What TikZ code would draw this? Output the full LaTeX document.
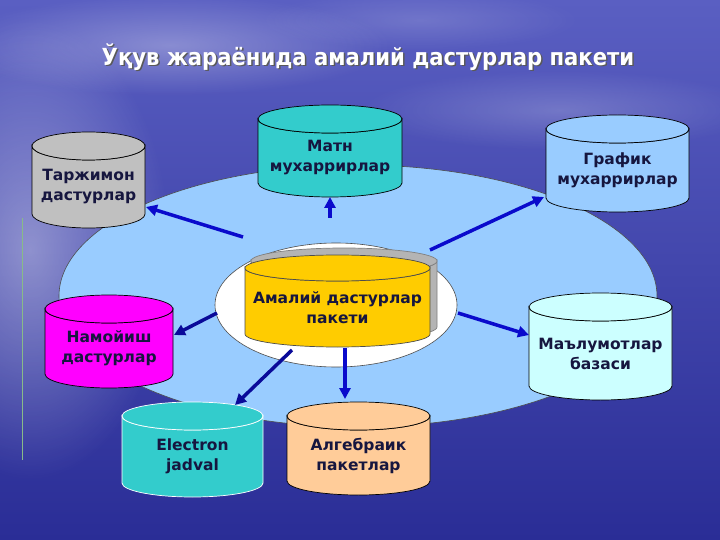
\documentclass[tikz,border=0pt]{standalone}
\usepackage{fontspec}
\setmainfont{DejaVu Sans}
\newfontfamily\titlefont{DejaVu Sans Condensed}
\usetikzlibrary{arrows.meta,fadings,shapes.geometric}
\tikzfading[name=softglow, inner color=transparent!0, outer color=transparent!100]
\definecolor{bgtop}{HTML}{5A5FC2}
\definecolor{bgmid}{HTML}{4247AE}
\definecolor{bgbot}{HTML}{2A2D96}
\definecolor{ringblue}{HTML}{99CCFF}
\definecolor{arrowblue}{HTML}{0A0ACC}
\definecolor{arrowdark}{HTML}{0A0A99}
\definecolor{txtnavy}{HTML}{16163F}
\definecolor{cgray}{HTML}{C0C0C0}
\definecolor{cteal}{HTML}{33CCCC}
\definecolor{cmag}{HTML}{FF00FF}
\definecolor{cpeach}{HTML}{FFCC99}
\definecolor{ccyan}{HTML}{CCFFFF}
\definecolor{cyellow}{HTML}{FFCC00}
\definecolor{cshadow}{HTML}{B4B4B4}
\definecolor{greenline}{HTML}{88BB88}
\tikzset{
  cyltext/.style={font=\bfseries\fontsize{15.5}{20}\selectfont, text=txtnavy, align=center, inner sep=0pt},
  conn/.style={draw=arrowblue, line width=3.5pt, -{Triangle[length=11pt,width=11pt]}},
}
\newcommand\mycyl[9]{%
  \pgfmathsetmacro\cx{(#2+#3)/2}%
  \pgfmathsetmacro\rx{(#3-#2)/2}%
  \pgfmathsetmacro\yt{#4+#6}%
  \pgfmathsetmacro\yb{#5-#6}%
  \pgfmathsetmacro\ym{(\yt+#5)/2}%
  \filldraw[fill=#7, draw=#8, line width=0.7pt] (#2,\yt) -- (#2,\yb) arc[start angle=180, end angle=0, x radius=\rx, y radius=#6] -- (#3,\yt) arc[start angle=0, end angle=180, x radius=\rx, y radius=#6] -- cycle;
  \filldraw[fill=#7, draw=#8, line width=0.7pt] (\cx,\yt) ellipse[x radius=\rx, y radius=#6];
  \node[cyltext] (#1) at (\cx,\ym) {#9};
}
\begin{document}
\begin{tikzpicture}[x=1pt,y=-1pt]
\useasboundingbox (0,0) rectangle (720,540);
% background
\shade[top color=bgtop, middle color=bgmid, bottom color=bgbot] (0,0) rectangle (720,540);
\fill[white, opacity=0.4, path fading=softglow] (30,250) ellipse[x radius=140, y radius=230];
\fill[white, opacity=0.3, path fading=softglow] (170,45) ellipse[x radius=220, y radius=50];
\fill[white, opacity=0.2, path fading=softglow] (560,110) ellipse[x radius=200, y radius=40];
\fill[white, opacity=0.15, path fading=softglow] (420,20) ellipse[x radius=160, y radius=30];
\draw[greenline, line width=0.8pt] (22,218) -- (22,460);
% title
\node[font=\titlefont\bfseries\fontsize{23.5}{28}\selectfont, text=black!65] (titleshadow) at (369.5,58.5) {Ўқув жараёнида амалий дастурлар пакети};
\node[font=\titlefont\bfseries\fontsize{23.5}{28}\selectfont, text=white] (title) at (368,57) {Ўқув жараёнида амалий дастурлар пакети};
% ring
\draw[fill=ringblue, draw=black!70, line width=0.6pt] (358,296) ellipse[x radius=299, y radius=131];
\node[draw=black!70, fill=white, ellipse, minimum width=242pt, minimum height=124pt, inner sep=0pt, line width=0.6pt] (hub) at (336,305) {};
% central cylinder with shadow
\mycyl{hubshadow}{251}{437}{248}{340}{13}{cshadow}{black!50}{}
\mycyl{center}{245}{430}{255}{347}{13}{cyellow}{black!70}{Амалий дастурлар\\пакети}
% outer cylinders
\mycyl{tarj}{32}{145}{132}{228}{14}{cgray}{black}{Таржимон\\дастурлар}
\mycyl{matn}{258}{402}{105}{197}{14}{cteal}{black}{Матн\\мухаррирлар}
\mycyl{grafik}{546}{689}{115}{212}{14}{ringblue}{black}{График\\мухаррирлар}
\mycyl{namoyish}{45}{173}{295}{388}{14}{cmag}{black}{Намойиш\\дастурлар}
\mycyl{electron}{122}{263}{402}{497}{14}{cteal}{white}{Electron\\jadval}
\mycyl{algebra}{287}{430}{402}{495}{14}{cpeach}{black}{Алгебраик\\пакетлар}
\mycyl{malumot}{529}{672}{293}{400}{14}{ccyan}{black}{Маълумотлар\\базаси}
% connector endpoints
\coordinate (s1) at (243,237); \coordinate (e1) at (146,207);
\coordinate (s2) at (330,218); \coordinate (e2) at (330,197);
\coordinate (s3) at (430,250); \coordinate (e3) at (544,197);
\coordinate (s4) at (217,313); \coordinate (e4) at (174,335);
\coordinate (s5) at (292,350); \coordinate (e5) at (235,405);
\coordinate (s6) at (345,348); \coordinate (e6) at (345,399);
\coordinate (s7) at (458,313); \coordinate (e7) at (529,335);
\draw[conn] (s1) -- (e1);
\draw[conn] (s2) -- (e2);
\draw[conn] (s3) -- (e3);
\draw[conn, draw=arrowdark] (s4) -- (e4);
\draw[conn, draw=arrowdark] (s5) -- (e5);
\draw[conn] (s6) -- (e6);
\draw[conn] (s7) -- (e7);
\end{tikzpicture}
\end{document}
